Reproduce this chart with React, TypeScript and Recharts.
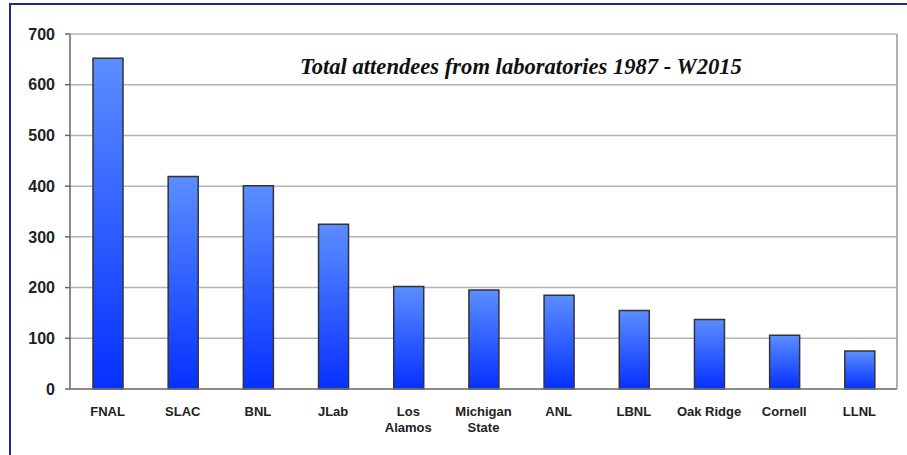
import { BarChart, Bar, XAxis, YAxis, CartesianGrid } from 'recharts';

const labs = [
  'FNAL',
  'SLAC',
  'BNL',
  'JLab',
  'Los\nAlamos',
  'Michigan\nState',
  'ANL',
  'LBNL',
  'Oak Ridge',
  'Cornell',
  'LLNL',
];
const attendees = [652, 419, 401, 325, 202, 195, 185, 155, 137, 106, 75];
const yTicks = [0, 100, 200, 300, 400, 500, 600, 700];
const title = 'Total attendees from laboratories 1987 - W2015';

const data = labs.map((lab, i) => ({ lab, value: attendees[i] }));

function LabTick(props: any) {
  const { x, y, payload } = props;
  const lines = String(payload.value).split('\n');
  return (
    <text
      x={x}
      y={y}
      textAnchor="middle"
      fontFamily="Arial, 'Liberation Sans', sans-serif"
      fontWeight="bold"
      fontSize={13}
      fill="#222"
    >
      {lines.map((line, i) => (
        <tspan key={i} x={x} dy={i === 0 ? 19 : 16}>
          {line}
        </tspan>
      ))}
    </text>
  );
}

export default function App() {
  return (
    <div
      style={{
        position: 'absolute',
        left: 0,
        top: 0,
        width: 907,
        height: 455,
        overflow: 'hidden',
        background: '#fff',
      }}
    >
      <div
        style={{
          position: 'absolute',
          left: 9,
          top: 3,
          width: 1200,
          height: 1200,
          border: '2px solid #1c2c8c',
        }}
      />
      <BarChart
        width={907}
        height={455}
        data={data}
        margin={{ top: 34, right: 9, left: 0, bottom: 0 }}
        style={{ position: 'absolute', left: 0, top: 0 }}
      >
        <defs>
          <linearGradient id="barFill" x1="0" y1="0" x2="0" y2="1">
            <stop offset="0%" stopColor="#5b8eff" />
            <stop offset="100%" stopColor="#0530ff" />
          </linearGradient>
        </defs>
        <CartesianGrid vertical={false} stroke="#b4b4b4" strokeWidth={1.5} />
        <XAxis
          dataKey="lab"
          height={66}
          interval={0}
          tickLine={false}
          axisLine={{ stroke: '#777', strokeWidth: 1.5 }}
          tick={<LabTick />}
        />
        <YAxis
          width={70}
          domain={[0, 700]}
          ticks={yTicks}
          tickSize={5}
          tickMargin={10}
          axisLine={{ stroke: '#666', strokeWidth: 1.5 }}
          tickLine={{ stroke: '#666', strokeWidth: 1.5 }}
          tick={{
            fill: '#222',
            fontSize: 16,
            fontWeight: 'bold',
            fontFamily: "Arial, 'Liberation Sans', sans-serif",
          }}
        />
        <YAxis
          yAxisId="frame"
          orientation="right"
          width={1}
          tick={false}
          tickLine={false}
          axisLine={{ stroke: '#999', strokeWidth: 1.5 }}
        />
        <Bar
          dataKey="value"
          barSize={30}
          fill="url(#barFill)"
          stroke="#333"
          strokeWidth={1.5}
          isAnimationActive={false}
        />
      </BarChart>
      <div
        style={{
          position: 'absolute',
          left: 300,
          top: 54,
          fontFamily: "'Times New Roman', 'Liberation Serif', serif",
          fontStyle: 'italic',
          fontWeight: 'bold',
          fontSize: 22.6,
          lineHeight: '26px',
          color: '#111',
          whiteSpace: 'nowrap',
        }}
      >
        {title}
      </div>
    </div>
  );
}
